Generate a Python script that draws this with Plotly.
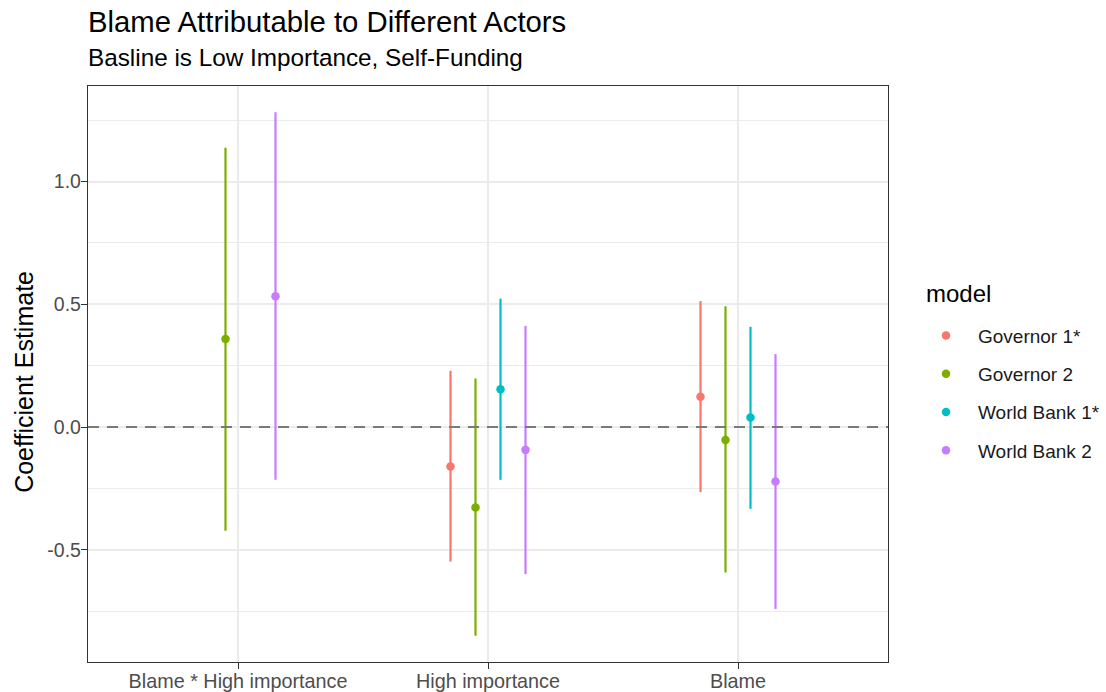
import plotly.graph_objects as go

# ---- data ----
categories = ["Blame * High importance", "High importance", "Blame"]
models = ["Governor 1*", "Governor 2", "World Bank 1*", "World Bank 2"]
colors = ["#F8766D", "#7CAE00", "#00BFC4", "#C77CFF"]

estimate = {
    "Governor 1*":   [None, -0.161, 0.123],
    "Governor 2":    [0.359, -0.328, -0.053],
    "World Bank 1*": [None, 0.154, 0.039],
    "World Bank 2":  [0.533, -0.093, -0.222],
}
lower = {
    "Governor 1*":   [None, -0.548, -0.265],
    "Governor 2":    [-0.422, -0.850, -0.592],
    "World Bank 1*": [None, -0.215, -0.333],
    "World Bank 2":  [-0.215, -0.599, -0.741],
}
upper = {
    "Governor 1*":   [None, 0.229, 0.513],
    "Governor 2":    [1.137, 0.198, 0.492],
    "World Bank 1*": [None, 0.523, 0.408],
    "World Bank 2":  [1.282, 0.412, 0.297],
}
y_ticks = [-0.5, 0.0, 0.5, 1.0]
y_tick_labels = ["-0.5", "0.0", "0.5", "1.0"]

# ---- figure ----
FONT = "Liberation Sans, Arial, Helvetica, sans-serif"
dodge = 0.1  # width per model slot (position_dodge)
n = len(models)

fig = go.Figure()
for i, m in enumerate(models):
    xs, ys, ep, em = [], [], [], []
    for j, c in enumerate(categories):
        e = estimate[m][j]
        if e is None:
            continue
        xs.append(j + 1 + (i - (n - 1) / 2) * dodge)
        ys.append(e)
        ep.append(upper[m][j] - e)
        em.append(e - lower[m][j])
    fig.add_trace(go.Scatter(
        x=xs, y=ys, mode="markers", name=m, legendgroup=m,
        marker=dict(color=colors[i], size=8.5),
        error_y=dict(type="data", symmetric=False, array=ep, arrayminus=em,
                     color=colors[i], thickness=2.2, width=0),
    ))

fig.add_shape(type="line", xref="paper", x0=0, x1=1, yref="y", y0=0, y1=0,
              line=dict(color="#7A7A7A", width=2, dash="11px,8px"), layer="above")

fig.update_layout(
    width=1106, height=692,
    margin=dict(l=87.5, r=218, t=86, b=30, pad=0, autoexpand=False),
    paper_bgcolor="white", plot_bgcolor="white",
    font=dict(family=FONT, color="#000000"),
    showlegend=True,
    legend=dict(
        font=dict(size=19, color="#1A1A1A"),
        x=1.0325, xanchor="left", y=0.5995, yanchor="top",
        traceorder="grouped", tracegroupgap=10.5,
        itemwidth=54, bgcolor="rgba(0,0,0,0)",
    ),
    annotations=[
        dict(text="Blame Attributable to Different Actors", xref="paper", yref="paper",
             x=-0.003, y=1.1125, xanchor="left", yanchor="middle", showarrow=False,
             font=dict(size=29.3, color="#000000")),
        dict(text="Basline is Low Importance, Self-Funding", xref="paper", yref="paper",
             x=-0.003, y=1.0490, xanchor="left", yanchor="middle", showarrow=False,
             font=dict(size=24.3, color="#000000")),
        dict(text="Coefficient Estimate", xref="paper", yref="paper",
             x=-0.081, y=0.4867, xanchor="center", yanchor="middle", textangle=-90,
             showarrow=False, font=dict(size=25, color="#000000")),
        dict(text="model", xref="paper", yref="paper",
             x=1.0455, y=0.6406, xanchor="left", yanchor="middle",
             showarrow=False, font=dict(size=24, color="#000000")),
    ],
)

fig.update_xaxes(
    range=[0.4, 3.6], tickvals=[1, 2, 3], ticktext=categories, automargin=False,
    showgrid=True, gridcolor="#EBEBEB", gridwidth=2.2,
    zeroline=False, showline=True, mirror=True, linecolor="#333333", linewidth=1.3,
    ticks="outside", ticklen=6, tickwidth=1.3, tickcolor="#333333",
    ticklabelstandoff=-5,
    tickfont=dict(size=19.8, color="#4D4D4D"),
)
fig.update_yaxes(
    range=[-0.957, 1.389], tickvals=y_ticks, ticktext=y_tick_labels, automargin=False,
    showgrid=True, gridcolor="#EBEBEB", gridwidth=2.2,
    minor=dict(dtick=0.25, tick0=0, showgrid=True, gridcolor="#EBEBEB",
               gridwidth=1.2, ticks=""),
    zeroline=False, showline=True, mirror=True, linecolor="#333333", linewidth=1.3,
    ticks="outside", ticklen=6, tickwidth=1.3, tickcolor="#333333",
    ticklabelstandoff=-4,
    tickfont=dict(size=19.5, color="#4D4D4D"),
)

# remove the default 8px page margin so the figure fills the window exactly
fig.write_html("out.html",
               config={"displayModeBar": False},
               post_script="document.body.style.margin='0';document.body.style.overflow='hidden';")
